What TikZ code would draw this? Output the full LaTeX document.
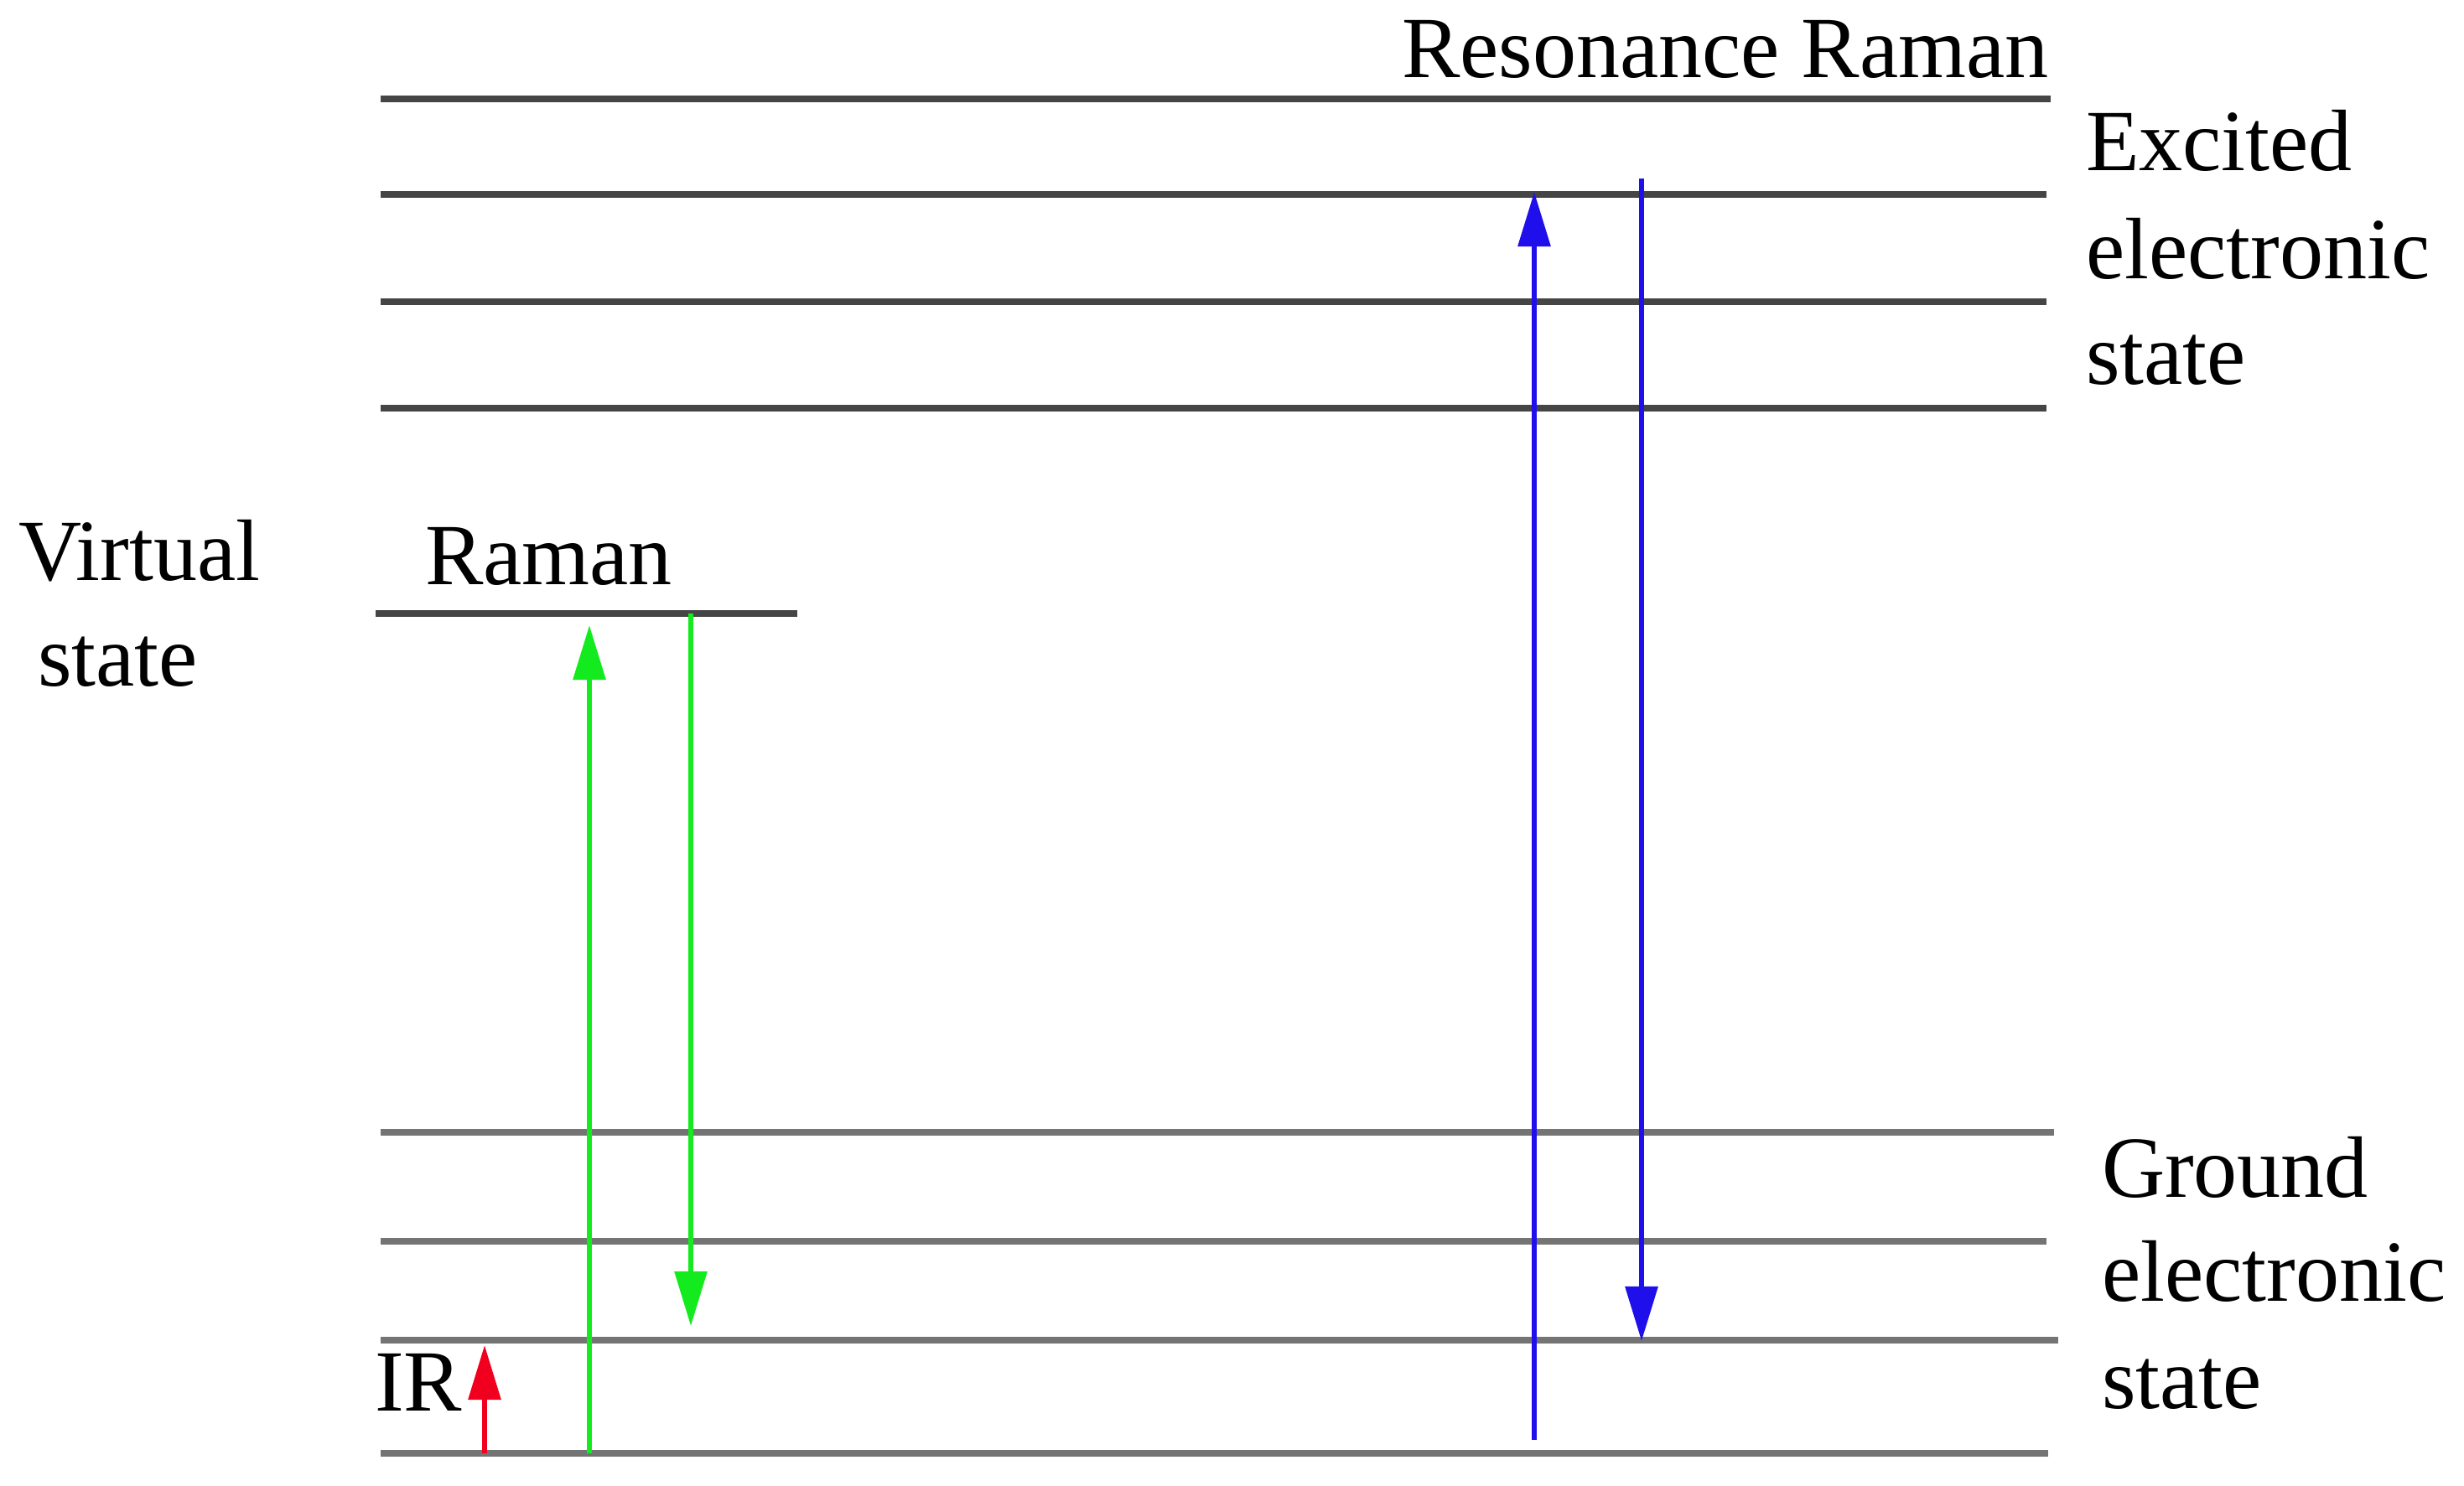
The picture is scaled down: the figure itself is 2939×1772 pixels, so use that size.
\documentclass[tikz,border=0pt]{standalone}
\usepackage{fontspec}
\setmainfont{Liberation Serif}
\usetikzlibrary{arrows.meta}
\definecolor{lvldark}{HTML}{454545}
\definecolor{lvlgray}{HTML}{747474}
\definecolor{rgreen}{RGB}{20,235,30}
\definecolor{rblue}{RGB}{30,15,235}
\definecolor{rred}{RGB}{240,0,30}
\tikzset{
  lbl/.style={anchor=base west, inner sep=0pt, outer sep=0pt, font=\fontsize{29.6}{36}\selectfont},
  level/.style={line width=2.1pt},
  trans/.style={line width=1.7pt, -{Triangle[length=6.5mm, width=3.8mm]}},
}
\begin{document}
\begin{tikzpicture}[x=0.01cm, y=-0.01cm]
\useasboundingbox (0,0) rectangle (2939,1772);
% level lines
\draw[level, lvldark] (454,118) -- (2446,118);
\draw[level, lvldark] (454,232) -- (2441,232);
\draw[level, lvldark] (454,360) -- (2441,360);
\draw[level, lvldark] (454,487) -- (2441,487);
\draw[level, lvldark] (448,732) -- (951,732);
\draw[level, lvlgray] (454,1351) -- (2450,1351);
\draw[level, lvlgray] (454,1481) -- (2441,1481);
\draw[level, lvlgray] (454,1599) -- (2455,1599);
\draw[level, lvlgray] (454,1734) -- (2443,1734);
% arrow endpoints
\coordinate (redS) at (578,1734);
\coordinate (redE) at (578,1605);
\coordinate (gupS) at (703,1734);
\coordinate (gupE) at (703,746);
\coordinate (gdnS) at (824,732);
\coordinate (gdnE) at (824,1582);
\coordinate (bupS) at (1830,1718);
\coordinate (bupE) at (1830,229);
\coordinate (bdnS) at (1958,213);
\coordinate (bdnE) at (1958,1600);
% transitions
\draw[trans, rred] (redS) -- (redE);
\draw[trans, rgreen] (gupS) -- (gupE);
\draw[trans, rgreen] (gdnS) -- (gdnE);
\draw[trans, rblue] (bupS) -- (bupE);
\draw[trans, rblue] (bdnS) -- (bdnE);
% labels
\node[lbl] (rr) at (1672,92) {Resonance Raman};
\node[lbl] (exc1) at (2488,203) {Excited};
\node[lbl] (exc2) at (2488,332) {electronic};
\node[lbl] (exc3) at (2488,458) {state};
\node[lbl] (gnd1) at (2507,1428) {Ground};
\node[lbl] (gnd2) at (2507,1552) {electronic};
\node[lbl] (gnd3) at (2507,1680) {state};
\node[lbl] (virt1) at (22,692) {Virtual};
\node[lbl] (virt2) at (45,818) {state};
\node[lbl] (raman) at (507,697) {Raman};
\node[lbl] (ir) at (447,1683) {IR};
\end{tikzpicture}
\end{document}
